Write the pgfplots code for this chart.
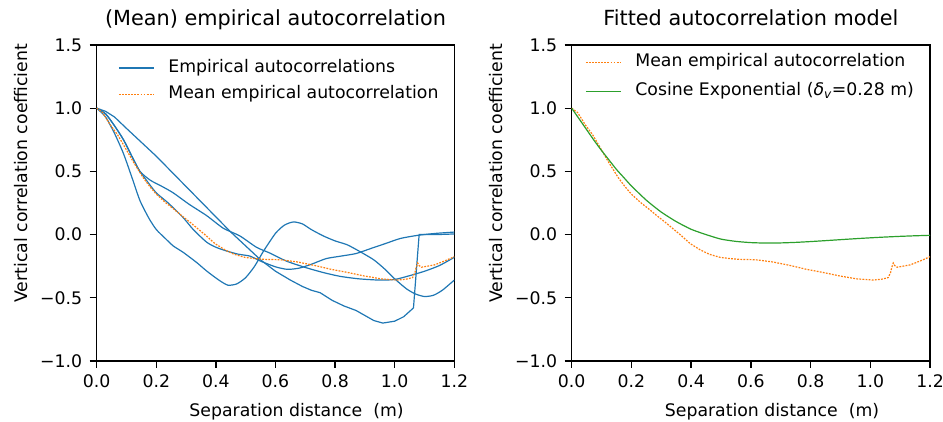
\documentclass[border=0pt]{standalone}
\usepackage{fontspec}
\setmainfont{DejaVu Sans}
\usepackage{pgfplots}
\pgfplotsset{compat=1.18}
\definecolor{mplblue}{HTML}{1F77B4}
\definecolor{mplorange}{HTML}{FF7F0E}
\definecolor{mplgreen}{HTML}{2CA02C}
\newcommand\lab{\fontsize{17.3}{20.8}\selectfont}
\newcommand\ttl{\fontsize{20.8}{25}\selectfont}
\pgfplotsset{
  myaxis/.style={
    scale only axis, height=316pt,
    xmin=0, xmax=1.2, ymin=-1, ymax=1.5,
    xtick={0,0.2,0.4,0.6,0.8,1.0,1.2},
    xticklabels={0.0,0.2,0.4,0.6,0.8,1.0,1.2},
    ytick={-1,-0.5,0,0.5,1,1.5},
    yticklabels={−1.0,−0.5,0.0,0.5,1.0,1.5},
    tick align=outside, tick pos=left,
    major tick length=7pt,
    every tick/.style={black, line width=1.3pt},
    axis line style={line width=1.3pt},
    tick label style={font=\lab},
    xticklabel style={yshift=-3pt},
    yticklabel style={xshift=-4pt},
    label style={font=\lab},
    title style={font=\ttl, at={(axis description cs:0.5,1)}, anchor=base, yshift=13.3pt},
    xlabel style={at={(axis description cs:0.559,0)}, anchor=base, yshift=-55.7pt},
    ylabel style={at={(axis description cs:-0.194,0.594)}, anchor=base},
    xlabel={Separation distance\ \ (m)},
    ylabel={Vertical correlation coefficient},
    legend cell align=left,
    legend image code/.code={\draw[##1] (0pt,0pt) -- (35pt,0pt);},
    legend style={draw=none, fill=none, inner sep=0pt, font=\lab,
      nodes={inner ysep=0pt, inner xsep=14pt, text height=12.6pt, text depth=4pt},
      anchor=north west},
  },
  blueline/.style={mplblue, line width=1.2pt, smooth, tension=0.4},
  orangeline/.style={mplorange, line width=1.2pt, dash pattern=on 1.8pt off 1.3pt},
}
\pgfplotstableread{
x y
0 1.0
0.02 0.965
0.045 0.87
0.07 0.79
0.09 0.71
0.123 0.575
0.156 0.45
0.18 0.375
0.20 0.32
0.23 0.255
0.257 0.205
0.285 0.15
0.312 0.10
0.34 0.045
0.368 -0.01
0.396 -0.07
0.43 -0.12
0.46 -0.155
0.497 -0.18
0.53 -0.19
0.564 -0.196
0.60 -0.198
0.62 -0.20
0.675 -0.217
0.731 -0.244
0.787 -0.275
0.843 -0.30
0.899 -0.328
0.954 -0.35
1.01 -0.36
1.04 -0.352
1.06 -0.34
1.068 -0.30
1.072 -0.26
1.077 -0.225
1.082 -0.245
1.09 -0.258
1.133 -0.24
1.166 -0.21
1.2 -0.175
}\meancurve
\pgfplotstableread{
x y
0 1.0
0.03 0.93
0.06 0.80
0.09 0.64
0.12 0.44
0.145 0.27
0.175 0.13
0.20 0.04
0.23 -0.03
0.257 -0.09
0.29 -0.14
0.335 -0.22
0.37 -0.29
0.41 -0.36
0.44 -0.40
0.47 -0.39
0.50 -0.34
0.53 -0.25
0.56 -0.13
0.60 0.01
0.63 0.075
0.66 0.10
0.69 0.085
0.72 0.04
0.76 -0.01
0.80 -0.05
0.84 -0.08
0.88 -0.13
0.93 -0.20
0.97 -0.28
1.0 -0.35
1.04 -0.43
1.07 -0.47
1.10 -0.49
1.13 -0.48
1.16 -0.44
1.2 -0.36
}\curveA
\pgfplotstableread{
x y
0 1.0
0.03 0.975
0.06 0.93
0.10 0.84
0.15 0.73
0.20 0.62
0.25 0.50
0.30 0.38
0.35 0.26
0.40 0.14
0.45 0.02
0.50 -0.09
0.55 -0.20
0.60 -0.29
0.65 -0.36
0.69 -0.41
0.72 -0.44
0.75 -0.46
0.79 -0.52
0.83 -0.565
0.87 -0.60
0.90 -0.64
0.93 -0.68
0.96 -0.70
1.00 -0.685
1.03 -0.65
1.063 -0.58
1.082 0.0
1.14 0.0
1.2 0.005
}\curveB
\pgfplotstableread{
x y
0 1.0
0.03 0.955
0.06 0.86
0.09 0.75
0.12 0.61
0.145 0.50
0.17 0.42
0.20 0.33
0.24 0.25
0.29 0.135
0.324 0.04
0.369 -0.06
0.40 -0.10
0.436 -0.13
0.475 -0.155
0.514 -0.17
0.55 -0.21
0.60 -0.255
0.64 -0.275
0.68 -0.265
0.72 -0.235
0.77 -0.19
0.82 -0.17
0.87 -0.15
0.92 -0.11
0.97 -0.07
1.02 -0.03
1.08 -0.005
1.14 0.01
1.2 0.02
}\curveC
\pgfplotstableread{
x y
0 1.0
0.03 0.955
0.06 0.86
0.09 0.75
0.12 0.61
0.145 0.50
0.18 0.43
0.22 0.38
0.257 0.33
0.31 0.24
0.369 0.15
0.425 0.05
0.48 -0.01
0.536 -0.10
0.58 -0.145
0.637 -0.21
0.70 -0.26
0.76 -0.30
0.816 -0.33
0.88 -0.35
0.95 -0.36
1.0 -0.355
1.05 -0.325
1.1 -0.29
1.15 -0.245
1.2 -0.18
}\curveD
\pgfplotstableread{
x y
0 1.0
0.025 0.915
0.05 0.83
0.075 0.745
0.1 0.665
0.125 0.59
0.15 0.515
0.175 0.45
0.2 0.385
0.25 0.272
0.3 0.178
0.35 0.103
0.4 0.042
0.45 0.0
0.5 -0.0358
0.55 -0.0537
0.6 -0.0634
0.65 -0.0669
0.7 -0.0658
0.75 -0.0615
0.8 -0.0552
0.85 -0.0478
0.9 -0.0401
0.95 -0.0325
1.0 -0.0256
1.05 -0.0193
1.1 -0.0139
1.15 -0.0094
1.2 -0.0057
}\fitcurve
\begin{document}
\begin{tikzpicture}
\useasboundingbox (0,0) rectangle (943pt,422pt);
\begin{axis}[myaxis, width=357.6pt, at={(96.7pt,61pt)}, anchor=south west,
  title={(Mean) empirical autocorrelation},
  legend style={at={(axis description cs:0.0596,0.9544)}, row sep=10pt}]
\addplot[blueline] table {\curveA};
\addlegendentry{Empirical autocorrelations}
\addplot[blueline, forget plot] table {\curveC};
\addplot[blueline, forget plot] table {\curveD};
\addplot[mplblue, line width=1.2pt, forget plot] table {\curveB};
\addplot[orangeline] table {\meancurve};
\addlegendentry{Mean empirical autocorrelation}
\end{axis}
\begin{axis}[myaxis, width=358.3pt, at={(571.7pt,61pt)}, anchor=south west,
  title={Fitted autocorrelation model},
  legend style={at={(axis description cs:0.0371,0.9715)}, row sep=12.1pt}]
\addplot[orangeline] table {\meancurve};
\addlegendentry{Mean empirical autocorrelation}
\addplot[mplgreen, line width=1.2pt, smooth, tension=0.4] table {\fitcurve};
\addlegendentry{Cosine Exponential ({\itshape δ}\textsubscript{\itshape v}=0.28 m)}
\end{axis}
\end{tikzpicture}
\end{document}
